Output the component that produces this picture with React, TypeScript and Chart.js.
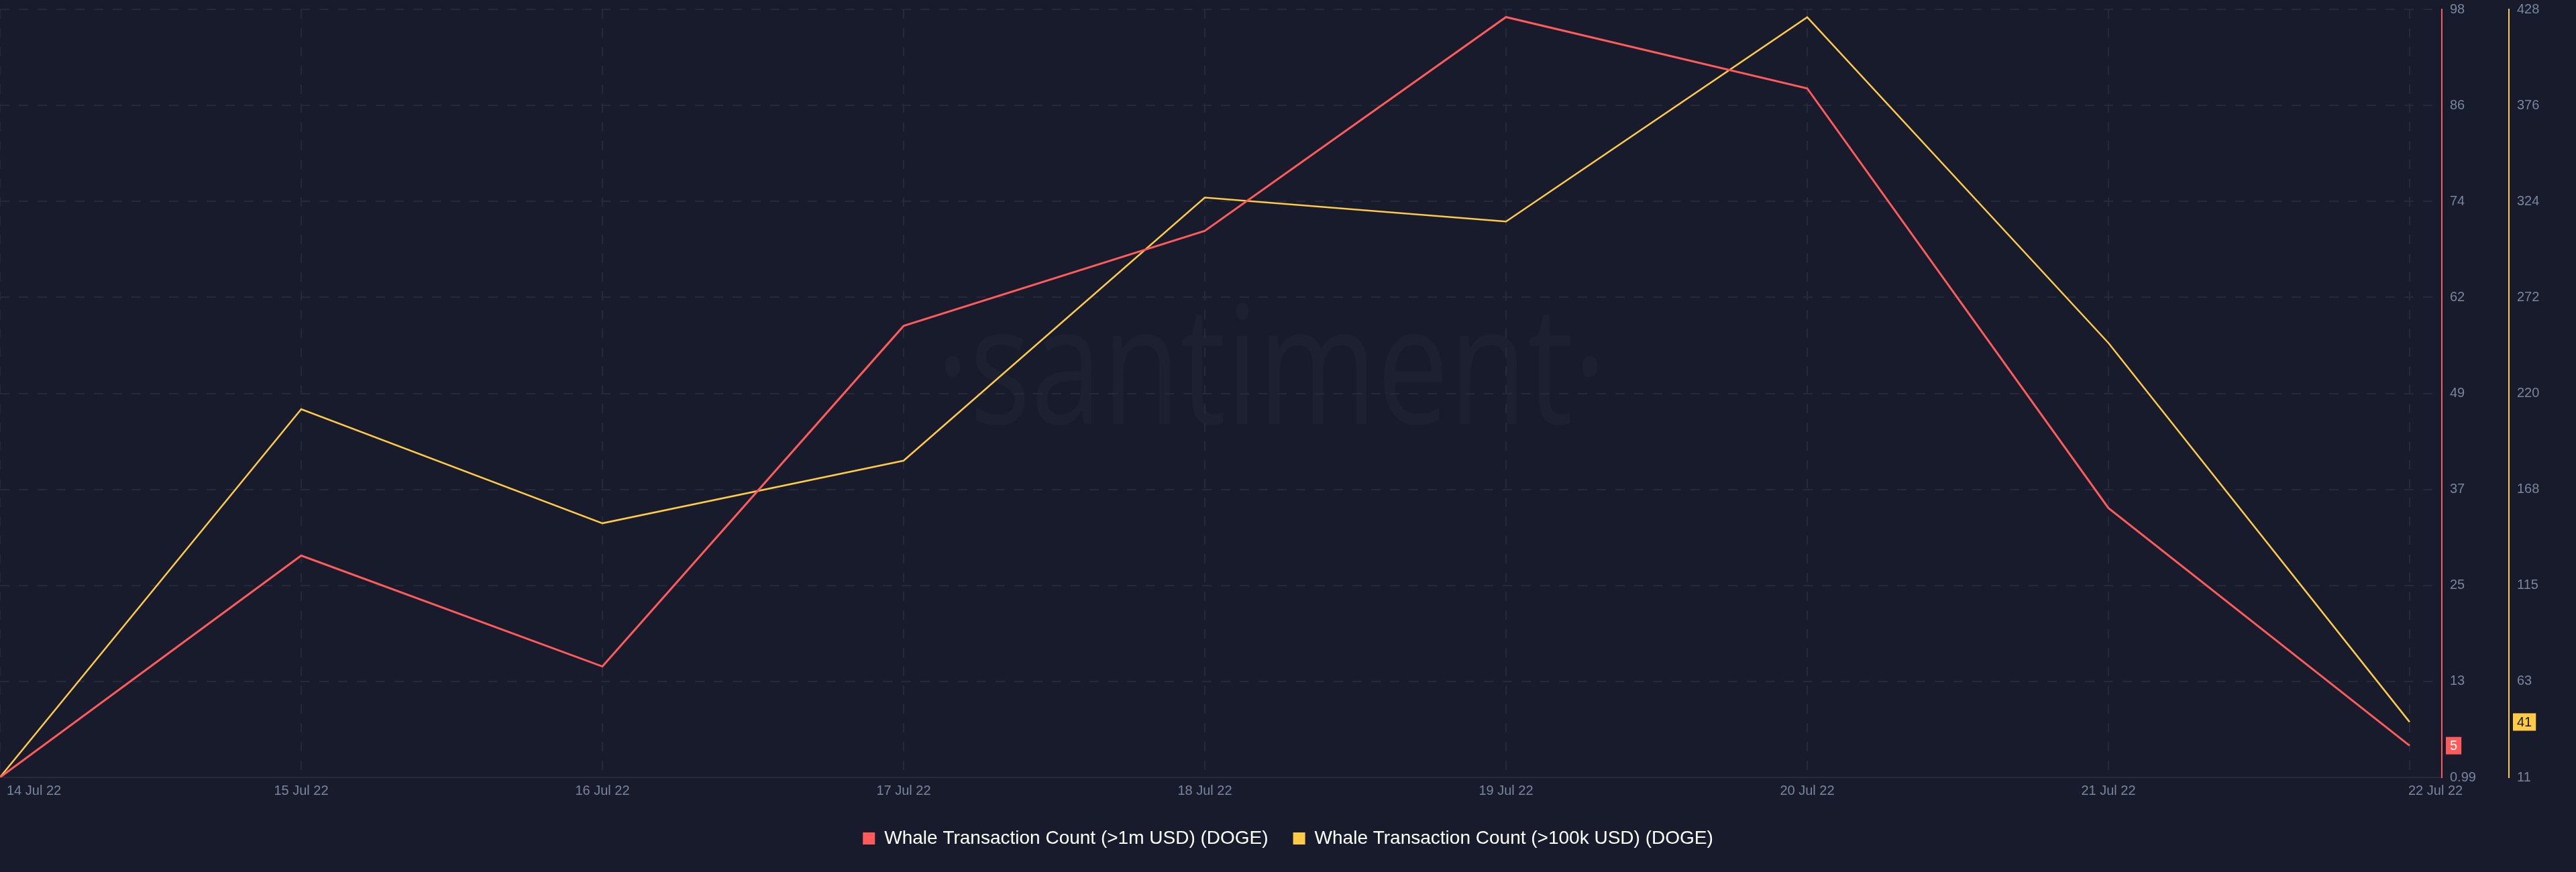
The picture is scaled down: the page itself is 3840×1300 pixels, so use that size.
import React, { useEffect, useRef } from "react";
import { Chart, registerables } from "chart.js";

Chart.register(...registerables);

// ---------- data ----------
const dates = [
  "14 Jul 22",
  "15 Jul 22",
  "16 Jul 22",
  "17 Jul 22",
  "18 Jul 22",
  "19 Jul 22",
  "20 Jul 22",
  "21 Jul 22",
  "22 Jul 22",
];
const whaleOver1m = [1, 29, 15, 58, 70, 97, 88, 35, 5];
const whaleOver100k = [11, 211, 149, 183, 326, 313, 424, 247, 41];

const redTickLabels = ["0.99", "13", "25", "37", "49", "62", "74", "86", "98"];
const yellowTickLabels = ["11", "63", "115", "168", "220", "272", "324", "376", "428"];

const redAxisMin = 0.99;
const redAxisMax = 97.97;
const yellowAxisMin = 10.89;
const yellowAxisMax = 428.24;
const xAxisMax = 8.107;

const seriesLabels = [
  "Whale Transaction Count (>1m USD) (DOGE)",
  "Whale Transaction Count (>100k USD) (DOGE)",
];

// ---------- style ----------
const BG = "#181b2b";
const RED = "#ff5b5b";
const YELLOW = "#ffcb47";
const GRID = "#252939";
const AXIS_LINE = "#262a3b";
const TICK = "#7a859e";
const FONT = '"Liberation Sans", Arial, Helvetica, sans-serif';

const watermarkPlugin = {
  id: "watermark",
  beforeDraw(chart: any) {
    const ctx = chart.ctx;
    ctx.save();
    ctx.font = '400 245px "Open Sans", "DejaVu Sans", sans-serif';
    ctx.fillStyle = "#1d2031";
    ctx.textAlign = "center";
    ctx.textBaseline = "alphabetic";
    const text = "·santiment·";
    const w = ctx.measureText(text).width;
    ctx.translate(1895, 632);
    ctx.scale(1000 / w, 1);
    ctx.fillText(text, 0, 0);
    ctx.restore();
  },
};

const xLabelsPlugin = {
  id: "xLabels",
  afterDraw(chart: any) {
    const ctx = chart.ctx;
    const xs = chart.scales.x;
    ctx.save();
    ctx.font = `20px ${FONT}`;
    ctx.fillStyle = TICK;
    ctx.textBaseline = "middle";
    const y = xs.top + 20;
    dates.forEach((d, i) => {
      const px = xs.getPixelForValue(i);
      if (i === 0) {
        ctx.textAlign = "left";
        ctx.fillText(d, px + 10, y);
      } else if (i === dates.length - 1) {
        ctx.textAlign = "left";
        ctx.fillText(d, px - 2, y);
      } else {
        ctx.textAlign = "center";
        ctx.fillText(d, px, y);
      }
    });
    ctx.restore();
  },
};

const badgePlugin = {
  id: "badges",
  afterDraw(chart: any) {
    const ctx = chart.ctx;
    const items = [
      { scale: chart.scales.yR, value: whaleOver1m[whaleOver1m.length - 1], bg: RED, fg: "#ffffff" },
      { scale: chart.scales.yY, value: whaleOver100k[whaleOver100k.length - 1], bg: YELLOW, fg: "#111111" },
    ];
    ctx.save();
    ctx.font = `20px ${FONT}`;
    ctx.textBaseline = "middle";
    ctx.textAlign = "center";
    items.forEach((it) => {
      const y = it.scale.getPixelForValue(it.value);
      const text = String(it.value);
      const tw = ctx.measureText(text).width;
      const bw = tw + 12;
      const bh = 26;
      const x = it.scale.left + 6;
      ctx.fillStyle = it.bg;
      ctx.fillRect(x, y - bh / 2, bw, bh);
      ctx.fillStyle = it.fg;
      ctx.fillText(text, x + bw / 2, y + 1);
    });
    ctx.restore();
  },
};

export default function App() {
  const canvasRef = useRef<HTMLCanvasElement | null>(null);

  useEffect(() => {
    document.body.style.margin = "0";
    document.body.style.background = BG;
    const canvas = canvasRef.current;
    if (!canvas) return;

    const chart = new Chart(canvas, {
      type: "line",
      data: {
        datasets: [
          {
            label: seriesLabels[0],
            data: dates.map((_, i) => ({ x: i, y: whaleOver1m[i] })),
            borderColor: RED,
            backgroundColor: RED,
            borderWidth: 3,
            pointRadius: 0,
            tension: 0,
            fill: false,
            yAxisID: "yR",
          },
          {
            label: seriesLabels[1],
            data: dates.map((_, i) => ({ x: i, y: whaleOver100k[i] })),
            borderColor: YELLOW,
            backgroundColor: YELLOW,
            borderWidth: 2.5,
            pointRadius: 0,
            tension: 0,
            fill: false,
            yAxisID: "yY",
          },
        ],
      },
      options: {
        responsive: false,
        animation: false,
        events: [],
        layout: { padding: { top: 14, bottom: 26, left: 0, right: 0 } },
        plugins: {
          tooltip: { enabled: false },
          legend: {
            position: "bottom",
            labels: {
              boxWidth: 18,
              boxHeight: 18,
              padding: 37,
              color: "#ffffff",
              font: { size: 28, family: FONT },
              generateLabels: (c: any) =>
                c.data.datasets.map((d: any, i: number) => ({
                  text: d.label,
                  fillStyle: d.borderColor,
                  strokeStyle: d.borderColor,
                  lineWidth: 0,
                  hidden: false,
                  datasetIndex: i,
                  fontColor: "#ffffff",
                })),
            },
          },
        },
        scales: {
          x: {
            type: "linear",
            min: 0,
            max: xAxisMax,
            afterBuildTicks: (s: any) => {
              s.ticks = dates.map((_, i) => ({ value: i }));
            },
            afterFit: (s: any) => {
              s.height = 40;
            },
            ticks: { display: false },
            grid: { color: GRID, lineWidth: 2, drawTicks: false },
            border: { display: true, color: AXIS_LINE, width: 2, dash: [14, 14] },
          },
          yR: {
            type: "linear",
            position: "right",
            min: redAxisMin,
            max: redAxisMax,
            afterBuildTicks: (s: any) => {
              s.ticks = redTickLabels.map((_, i) => ({
                value: redAxisMin + (i * (redAxisMax - redAxisMin)) / (redTickLabels.length - 1),
              }));
            },
            afterFit: (s: any) => {
              s.width = 100;
            },
            ticks: {
              color: TICK,
              font: { size: 20, family: FONT },
              padding: 0,
              callback: (_v: any, i: number) => redTickLabels[i],
            },
            grid: {
              color: GRID,
              lineWidth: 2,
              drawTicks: true,
              tickLength: 12,
              tickColor: "rgba(0,0,0,0)",
            },
            border: { display: true, color: RED, width: 2, dash: [14, 14] },
          },
          yY: {
            type: "linear",
            position: "right",
            min: yellowAxisMin,
            max: yellowAxisMax,
            afterBuildTicks: (s: any) => {
              s.ticks = yellowTickLabels.map((_, i) => ({
                value:
                  yellowAxisMin + (i * (yellowAxisMax - yellowAxisMin)) / (yellowTickLabels.length - 1),
              }));
            },
            afterFit: (s: any) => {
              s.width = 100;
            },
            ticks: {
              color: TICK,
              font: { size: 20, family: FONT },
              padding: 0,
              callback: (_v: any, i: number) => yellowTickLabels[i],
            },
            grid: {
              display: true,
              color: "rgba(0,0,0,0)",
              drawOnChartArea: false,
              drawTicks: true,
              tickLength: 12,
              tickColor: "rgba(0,0,0,0)",
            },
            border: { display: true, color: YELLOW, width: 2 },
          },
        },
      } as any,
      plugins: [watermarkPlugin, xLabelsPlugin, badgePlugin],
    });

    return () => {
      chart.destroy();
    };
  }, []);

  return (
    <div style={{ width: 3840, height: 1300, background: BG }}>
      <canvas
        ref={canvasRef}
        width={3840}
        height={1300}
        style={{ display: "block", width: 3840, height: 1300, background: BG }}
      />
    </div>
  );
}
